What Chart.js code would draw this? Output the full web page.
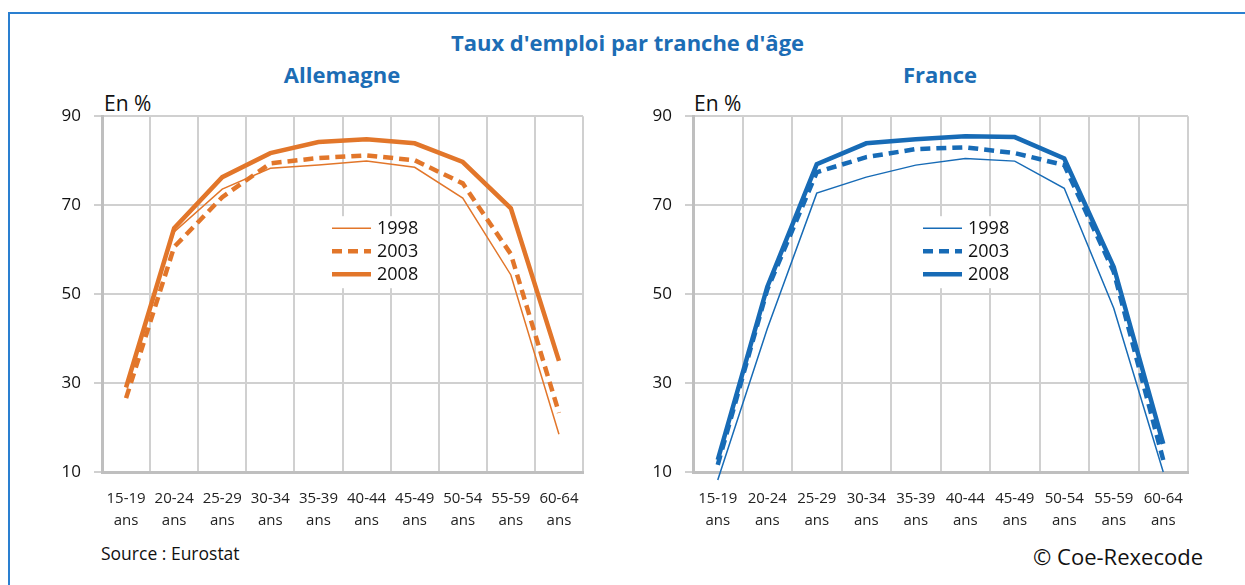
<!DOCTYPE html>
<html>
<head>
<meta charset="utf-8">
<script src="https://cdn.jsdelivr.net/npm/chart.js@4"></script>
<style>
  body { margin: 0; background: #fff; font-family: "Open Sans", Lato, sans-serif; }
  #page { position: relative; width: 1245px; height: 585px; overflow: hidden; }
  .frame { position: absolute; left: 8px; top: 12px; width: 1300px; height: 700px;
           border-top: 2px solid #2a7fd0; border-left: 2px solid #2a7fd0; }
  .txt { position: absolute; white-space: nowrap; }
  .blue { color: #1c6db5; font-weight: bold; }
  .box { position: absolute; }
</style>
</head>
<body>
<div id="page">
  <div class="frame"></div>
  <div class="txt blue" style="left:0;width:1255px;text-align:center;top:27px;font-size:22px;">Taux d'emploi par tranche d'âge</div>
  <div class="txt blue" style="left:242px;width:200px;text-align:center;top:59px;font-size:22px;">Allemagne</div>
  <div class="txt blue" style="left:840px;width:200px;text-align:center;top:59px;font-size:22px;">France</div>
  <div class="txt" style="left:104px;top:89px;font-size:21px;color:#111;">En %</div>
  <div class="txt" style="left:694px;top:89px;font-size:21px;color:#111;">En %</div>
  <div class="txt" style="left:101px;top:541px;font-size:17.5px;color:#111;">Source : Eurostat</div>
  <div class="txt" style="right:42px;top:541px;font-size:22px;color:#111;">© Coe-Rexecode</div>
  <div class="box" style="left:40px;top:93px;width:548px;height:447px;"><canvas id="deChart"></canvas></div>
  <div class="box" style="left:631px;top:93px;width:562px;height:447px;"><canvas id="frChart"></canvas></div>
</div>
<script>
// tranches d'âge
const categories = ['15-19', '20-24', '25-29', '30-34', '35-39', '40-44', '45-49', '50-54', '55-59', '60-64'];
const years = ['1998', '2003', '2008'];
const yTicks = [10, 30, 50, 70, 90];

// Allemagne (en %)
const de1998 = [29.5, 64.0, 73.6, 78.3, 79.0, 79.9, 78.5, 71.6, 54.3, 18.5];
const de2003 = [26.6, 60.6, 71.8, 79.4, 80.6, 81.2, 80.1, 74.9, 59.0, 23.3];
const de2008 = [29.0, 64.8, 76.3, 81.7, 84.2, 84.8, 83.9, 79.7, 69.3, 35.0];

// France (en %)
const fr1998 = [8.2, 42.2, 72.7, 76.3, 79.0, 80.5, 79.9, 73.8, 46.8, 10.0];
const fr2003 = [11.6, 51.0, 77.4, 80.8, 82.6, 83.0, 81.7, 79.0, 55.0, 12.7];
const fr2008 = [12.7, 51.6, 79.2, 83.9, 84.8, 85.5, 85.3, 80.5, 56.1, 16.3];

const orange = '#e2762a';
const blue = '#176bb6';
const fontFam = '"Open Sans", Lato, sans-serif';

// legende dessinee dans la zone du graphique, avec fond blanc
const inlineLegend = {
    id: 'inlineLegend',
    afterDatasetsDraw(chart, args, opts) {
        const ctx = chart.ctx;
        const a = chart.chartArea;
        const x0 = a.left + opts.left;
        const y0 = a.top + opts.top;
        ctx.save();
        ctx.fillStyle = '#fff';
        ctx.fillRect(x0 - 4, y0 - 12, 96, 72);
        chart.data.datasets.forEach(function(ds, i) {
            const y = y0 + i * 23;
            ctx.beginPath();
            ctx.strokeStyle = ds.borderColor;
            ctx.lineWidth = ds.borderWidth;
            ctx.setLineDash(ds.borderDash || []);
            ctx.moveTo(x0, y);
            ctx.lineTo(x0 + 39, y);
            ctx.stroke();
            ctx.setLineDash([]);
            ctx.fillStyle = '#111';
            ctx.font = '18px ' + fontFam;
            ctx.textBaseline = 'middle';
            ctx.fillText(ds.label, x0 + 45, y + 1);
        });
        ctx.restore();
    }
};

function makeDatasets(values, color) {
    return [
        { label: years[0], data: values[0], borderColor: color, borderWidth: 1.5 },
        { label: years[1], data: values[1], borderColor: color, borderWidth: 4.5, borderDash: [10, 6] },
        { label: years[2], data: values[2], borderColor: color, borderWidth: 4.5 }
    ];
}

function makeConfig(values, color) {
    return {
        type: 'line',
        data: {
            labels: categories.map(c => [c, 'ans']),
            datasets: makeDatasets(values, color)
        },
        options: {
            responsive: true,
            maintainAspectRatio: false,
            animation: false,
            layout: { padding: { top: 16, right: 5, left: 0, bottom: 0 } },
            elements: {
                point: { radius: 0 },
                line: { tension: 0, fill: false, borderCapStyle: 'butt', borderJoinStyle: 'miter' }
            },
            datasets: { line: { clip: false } },
            scales: {
                x: {
                    offset: true,
                    grid: { offset: true, color: '#d0d0d0', lineWidth: 2, drawTicks: false },
                    border: { color: '#bfbfbf', width: 3 },
                    ticks: { color: '#222', font: { family: fontFam, size: 15, lineHeight: 1.5 }, padding: 15, maxRotation: 0, autoSkip: false },
                    afterFit: function(scale) {
                        scale.height = 68;
                        scale.paddingLeft = 0;
                        scale.paddingRight = 0;
                    }
                },
                y: {
                    min: 10,
                    max: 90,
                    afterBuildTicks: function(scale) { scale.ticks = yTicks.map(v => ({ value: v })); },
                    grid: { color: '#d0d0d0', lineWidth: 2, tickLength: 8 },
                    border: { color: '#bfbfbf', width: 3 },
                    ticks: { color: '#111', font: { family: fontFam, size: 17 }, padding: 13 },
                    afterFit: function(scale) { scale.width = 62; }
                }
            },
            plugins: {
                legend: { display: false },
                tooltip: { enabled: false },
                inlineLegend: { left: 230, top: 112 }
            }
        },
        plugins: [inlineLegend]
    };
}

new Chart(document.getElementById('deChart'), makeConfig([de1998, de2003, de2008], orange));
new Chart(document.getElementById('frChart'), makeConfig([fr1998, fr2003, fr2008], blue));
</script>
</body>
</html>
